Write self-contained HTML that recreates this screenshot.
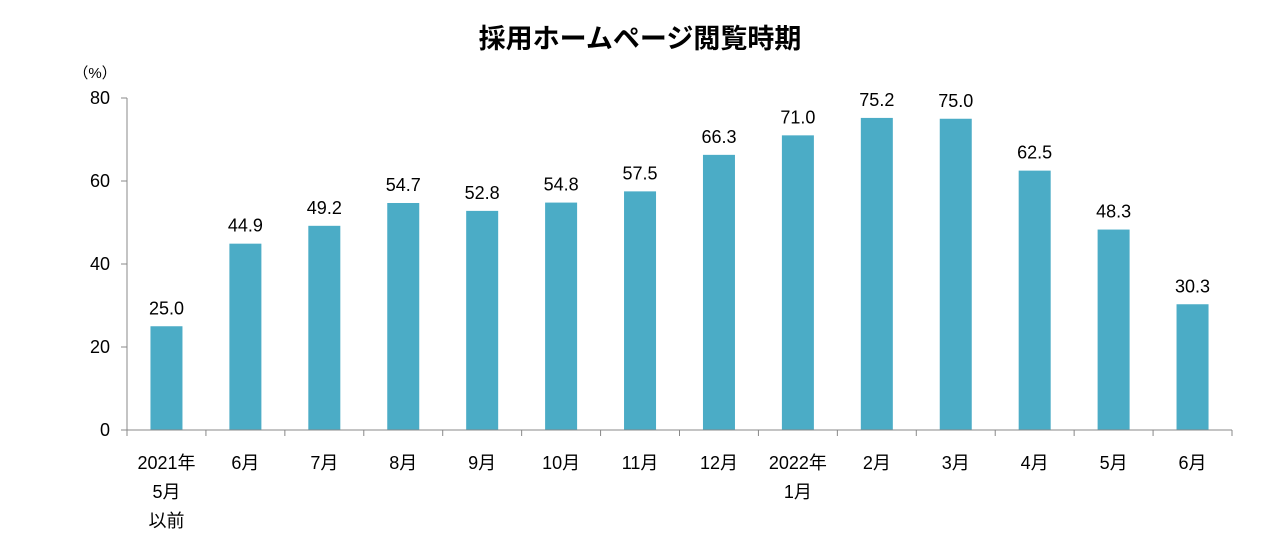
<!DOCTYPE html>
<html><head><meta charset="utf-8"><style>
html,body{margin:0;padding:0;background:#fff;}
svg text{font-family:"Liberation Sans","Noto Sans CJK JP",sans-serif;fill:#000;}
</style></head><body>
<svg id="chart" width="1280" height="545" viewBox="0 0 1280 545" xmlns="http://www.w3.org/2000/svg">
<text x="640" y="48" text-anchor="middle" font-size="27" font-weight="bold">採用ホームページ閲覧時期</text>
<text x="95" y="78" text-anchor="middle" font-size="15">（%）</text>
<g id="plot"></g>
</svg>
<script>
const categories = [["2021年","5月","以前"],["6月"],["7月"],["8月"],["9月"],["10月"],["11月"],["12月"],["2022年","1月"],["2月"],["3月"],["4月"],["5月"],["6月"]];
const values = [25.0,44.9,49.2,54.7,52.8,54.8,57.5,66.3,71.0,75.2,75.0,62.5,48.3,30.3];
const yTicks = [0,20,40,60,80];

const x0 = 127, x1 = 1232, yBase = 430, yTop = 98, yMax = 80;
const step = (x1 - x0) / categories.length;
const barW = 32;
const yScale = v => yBase - v / yMax * (yBase - yTop);
const xCenter = i => x0 + step * (i + 0.5);
const NS = "http://www.w3.org/2000/svg";
const g = document.getElementById("plot");
function mk(tag, attrs, text) {
  const e = document.createElementNS(NS, tag);
  for (const k in attrs) e.setAttribute(k, attrs[k]);
  if (text !== undefined) e.textContent = text;
  g.appendChild(e);
  return e;
}
let ax = mk("line", {x1: x0, y1: yTop, x2: x0, y2: yBase, stroke: "#888", "stroke-width": 1});


yTicks.forEach(t => {
  const y = yScale(t);
  let tk = mk("line", {x1: x0 - 6, y1: y, x2: x0, y2: y, stroke: "#888", "stroke-width": 1});
  
  
  let lb = mk("text", {x: x0 - 17, y: y + 6, "text-anchor": "end", "font-size": 18}, String(t));
  
  
});
values.forEach((v, i) => {
  const cx = xCenter(i), y = yScale(v);
  let r = mk("rect", {x: cx - barW / 2, y: y, width: barW, height: yBase - y, fill: "#4BACC6"});
  
  
  let t = mk("text", {x: cx, y: y - 12, "text-anchor": "middle", "font-size": 18}, v.toFixed(1));
  
  
});
let xa = mk("line", {x1: x0, y1: yBase, x2: x1, y2: yBase, stroke: "#888", "stroke-width": 1});


for (let i = 0; i <= categories.length; i++) {
  const x = x0 + step * i;
  let tk = mk("line", {x1: x, y1: yBase, x2: x, y2: yBase + 6, stroke: "#888", "stroke-width": 1});
  
  
}
categories.forEach((lines, i) => {
  lines.forEach((s, j) => {
    let t = mk("text", {x: xCenter(i), y: 469 + j * 29, "text-anchor": "middle", "font-size": 18}, s);
    
    
  });
});
</script>
</body></html>
